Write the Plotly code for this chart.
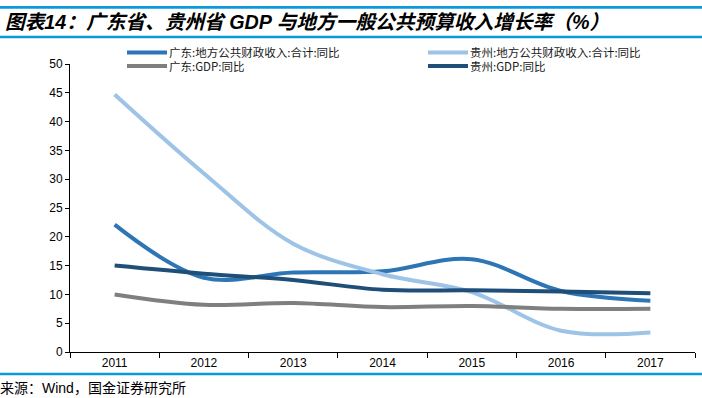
import plotly.graph_objects as go

years = ["2011", "2012", "2013", "2014", "2015", "2016", "2017"]
gd_fiscal = [22.1, 12.9, 13.8, 14.0, 16.1, 10.6, 8.9]
gz_fiscal = [44.7, 31.0, 18.8, 13.5, 10.4, 3.7, 3.4]
gd_gdp = [10.0, 8.2, 8.5, 7.8, 8.0, 7.5, 7.5]
gz_gdp = [15.0, 13.6, 12.5, 10.8, 10.7, 10.5, 10.2]
yticks = [0, 5, 10, 15, 20, 25, 30, 35, 40, 45, 50]

names = ["广东:地方公共财政收入:合计:同比", "贵州:地方公共财政收入:合计:同比",
         "广东:GDP:同比", "贵州:GDP:同比"]
series = [gd_fiscal, gz_fiscal, gd_gdp, gz_gdp]
colors = ["#2E75B6", "#9DC3E6", "#7F7F7F", "#1F4E79"]

W, H = 702, 398
L, R, T, B = 70, 7, 64, 46
PW, PH = W - L - R, H - T - B

def px(x):
    return (x - L) / PW

def py(y):
    return (H - B - y) / PH

fig = go.Figure()
for nm, vals, c in zip(names, series, colors):
    fig.add_trace(go.Scatter(x=years, y=vals, name=nm, mode="lines", showlegend=False,
                             line=dict(color=c, width=4, shape="spline", smoothing=1.0)))

cjk = "Liberation Sans, Arial, Noto Sans CJK SC"
fig.update_layout(
    width=W, height=H,
    margin=dict(l=L, r=R, t=T, b=B, autoexpand=False),
    paper_bgcolor="white", plot_bgcolor="white",
    font=dict(family=cjk, size=12, color="black"),
    xaxis=dict(type="category", showline=True, linecolor="black", linewidth=1,
               ticks="outside", tickson="boundaries", ticklen=5, tickcolor="black",
               showgrid=False, zeroline=False, tickfont=dict(size=12),
               range=[-0.5, 6.5]),
    yaxis=dict(range=[0, 50], tickvals=yticks, showline=True, linecolor="black",
               linewidth=1, ticks="outside", ticklen=4, tickcolor="black",
               showgrid=False, zeroline=False, tickfont=dict(size=12)),
)

# legend (two columns, drawn manually)
leg_pos = [(127, 52.5), (428, 52.5), (127, 66), (428, 66)]
for (lx, ly), nm, c in zip(leg_pos, names, colors):
    fig.add_shape(type="line", xref="paper", yref="paper", x0=px(lx), x1=px(lx + 40),
                  y0=py(ly), y1=py(ly), line=dict(color=c, width=4))
    fig.add_annotation(text=nm, xref="paper", yref="paper", x=px(lx + 41), y=py(ly),
                       xanchor="left", yanchor="middle", showarrow=False, borderpad=0,
                       font=dict(family="Noto Sans CJK SC", size=11.5, color="#1a1a1a"))

fig.add_annotation(text="<b><i>图表14：广东省、贵州省 GDP 与地方一般公共预算收入增长率（%）</i></b>",
                   xref="paper", yref="paper", x=px(3), y=py(22), xanchor="left",
                   yanchor="middle", showarrow=False,
                   font=dict(family=cjk, size=19.7, color="black"))
fig.add_annotation(text="来源：Wind，国金证券研究所",
                   xref="paper", yref="paper", x=px(-2), y=py(388), xanchor="left",
                   yanchor="middle", showarrow=False,
                   font=dict(family=cjk, size=14, color="black"))

# blue rules: shapes plus thin filled annotation bars drawn on top
rule = "#0A9ADB"
for yy in (7.5, 37, 374):
    fig.add_shape(type="line", xref="paper", yref="paper", x0=px(0), x1=px(W),
                  y0=py(yy), y1=py(yy), line=dict(color=rule, width=2.5))
    fig.add_annotation(text=" ", xref="paper", yref="paper", x=px(0), y=py(yy),
                       xanchor="left", yanchor="middle", showarrow=False,
                       width=W, height=2, bgcolor=rule, borderpad=0, borderwidth=0,
                       font=dict(size=1))

fig.write_html("out.html", config={"displayModeBar": False},
               post_script="document.body.style.margin='0';document.body.style.overflow='hidden';")
